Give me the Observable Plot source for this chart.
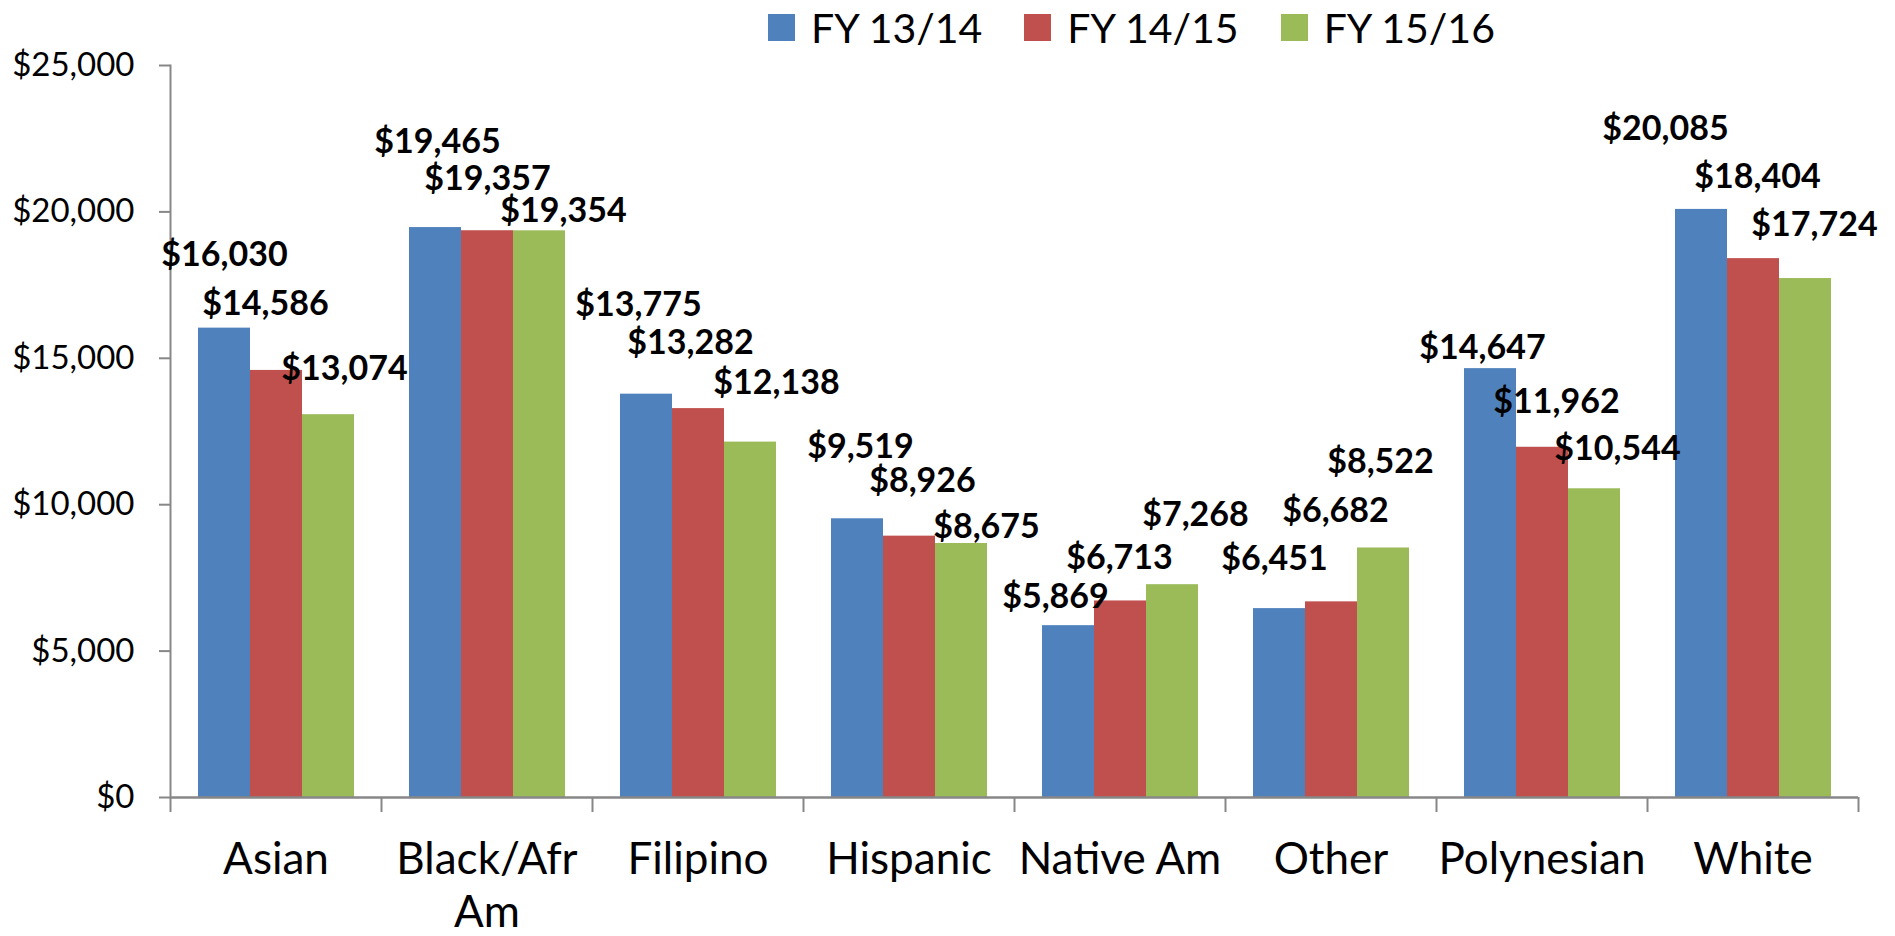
<!DOCTYPE html>
<html>
<head>
<meta charset="utf-8">
<script src="https://cdn.jsdelivr.net/npm/d3@7"></script>
<script src="https://cdn.jsdelivr.net/npm/@observablehq/plot@0.6"></script>
<style>
  html, body { margin: 0; padding: 0; background: #fff; }
  #legend { height: 55px; display: flex; align-items: center; padding-left: 768px; font-family: Lato, sans-serif; font-size: 41px; color: #000; box-sizing: border-box; }
  #legend .item { display: flex; align-items: center; margin-right: 42px; }
  #legend .sw { width: 27px; height: 27px; margin-right: 16px; display: inline-block; }
  #chart svg { display: block; }
</style>
</head>
<body>
<div id="legend"></div>
<div id="chart"></div>
<script>
// ---- data ----
const categories = ["Asian", "Black/Afr Am", "Filipino", "Hispanic", "Native Am", "Other", "Polynesian", "White"];
const categoryLabels = ["Asian", "Black/Afr\nAm", "Filipino", "Hispanic", "Native Am", "Other", "Polynesian", "White"];
const years = ["FY 13/14", "FY 14/15", "FY 15/16"];
const fy1314 = [16030, 19465, 13775, 9519, 5869, 6451, 14647, 20085];
const fy1415 = [14586, 19357, 13282, 8926, 6713, 6682, 11962, 18404];
const fy1516 = [13074, 19354, 12138, 8675, 7268, 8522, 10544, 17724];
const yTicks = [0, 5000, 10000, 15000, 20000, 25000];

// ---- style / layout ----
const colors = ["#4F81BD", "#C0504D", "#9BBB59"];
const axisColor = "#878787";
const font = "Lato, sans-serif";
// manual nudges (px) of the data labels, as placed in the original chart: [series][category]
const labelDx = [[0, 2, -8, 3, -13, -5, -8, -36], [-11, 0, -8, 13, -1, 4, 14, 4], [16, 24, 26, 25, 23, -3, 23, 9]];
const labelDy = [[-73, -85, -89, -72, -29, -50, -21, -80], [-66, -52, -65, -55, -43, -91, -45, -82], [-46, -20, -59, -16, -70, -86, -40, -53]];

const W = 1895, H = 881;
const mL = 170, mR = 37, mT = 10, mB = 139;
const band = (W - mL - mR) / categories.length;

const series = [fy1314, fy1415, fy1516];
const rows = [];
series.forEach((vals, s) => vals.forEach((v, c) => rows.push({
  category: categories[c], year: years[s], value: v, s, c
})));

const fmt = d3.format(",");
const money = d => "$" + fmt(d);

// legend
const legend = document.getElementById("legend");
years.forEach((y, i) => {
  const it = document.createElement("div");
  it.className = "item";
  it.innerHTML = `<span class="sw" style="background:${colors[i]}"></span><span>${y}</span>`;
  legend.appendChild(it);
});

const labelMarks = rows.map(r => Plot.text([r], {
  fx: "category", x: "year", y: "value", text: d => money(d.value),
  dx: labelDx[r.s][r.c], dy: labelDy[r.s][r.c],
  fontSize: 34, fontWeight: "bold", fill: "#000"
}));

const chart = Plot.plot({
  width: W, height: H,
  marginLeft: mL, marginRight: mR, marginTop: mT, marginBottom: mB,
  style: { fontFamily: font, color: "#000", background: "#fff", overflow: "visible" },
  fx: { domain: categories, padding: 0, label: null },
  x: { domain: years, paddingInner: 0, paddingOuter: 0.513, axis: null },
  y: { domain: [0, 25000], label: null },
  color: { domain: years, range: colors },
  marks: [
    Plot.barY(rows, { fx: "category", x: "year", y: "value", fill: "year" }),
    Plot.ruleY([0], { stroke: axisColor, strokeWidth: 2.5 }),
    Plot.frame({ anchor: "left", facetAnchor: "left", stroke: axisColor, strokeWidth: 2 }),
    Plot.axisY({ ticks: yTicks, tickSize: 11, tickPadding: 25, tickFormat: money, fontSize: 33, stroke: axisColor, strokeWidth: 2, label: null }),
    Plot.axisFx({ anchor: "bottom", text: null, tickSize: 15, dx: -band / 2, stroke: axisColor, strokeWidth: 2, label: null }),
    Plot.axisFx({ anchor: "bottom", ticks: [categories[categories.length - 1]], text: null, tickSize: 15, dx: band / 2, stroke: axisColor, strokeWidth: 2, label: null }),
    Plot.axisFx({ anchor: "bottom", tickSize: 0, tickPadding: 39, fontSize: 44, lineHeight: 1.2, tickFormat: d => categoryLabels[categories.indexOf(d)], label: null }),
    ...labelMarks
  ]
});
document.getElementById("chart").appendChild(chart);
</script>
</body>
</html>
